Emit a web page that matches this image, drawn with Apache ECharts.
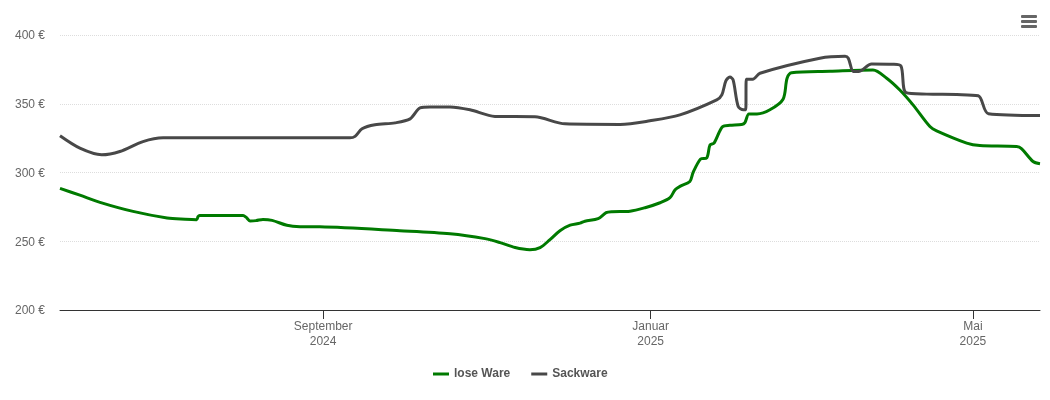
<!DOCTYPE html>
<html>
<head>
<meta charset="utf-8">
<script src="https://cdn.jsdelivr.net/npm/echarts@6/dist/echarts.min.js"></script>
<style>
html,body{margin:0;padding:0;background:#fff}
#chart{width:1050px;height:400px}
</style>
</head>
<body>
<div id="chart"></div>
<script>
var startDate = '2024-05-26'
var endDate = '2025-05-26'

// x values are days since startDate
var looseDays = [0,7.4,14.9,27.2,39.9,46.6,50.9,51.4,52,68.2,69.3,70.8,73,75.6,79,84.5,89.4,96.8,126.6,145.3,158.3,163.9,169.5,175,178.8,182.5,186.2,190,193.7,195.5,200.4,203.4,205.6,212.3,217.9,223.5,227.2,229.1,230.9,234.6,235.8,238.6,240.9,242.1,243.6,246.8,249.5,253.9,255.1,256.6,259.6,264.4,269.3,270.8,272.5,286.8,302.8,307.9,312.8,317.7,324,326.5,337.7,342.6,356.3,358.2,362.4,365]
var looseValues = [288.4,283.5,278.3,271.7,266.9,266,265.7,267.9,268.8,268.8,267.5,264.8,265,265.9,265.2,261.6,260.6,260.5,257.7,255.5,251.9,249,245.4,243.9,245.4,251.2,257.7,261.7,263.2,264.6,266.4,270.8,271.5,271.9,274.4,278,281.7,287.5,289.9,293.5,300,309.8,310.7,320.1,321.4,333.4,334.3,334.9,336.3,342.6,342.6,345.6,353.3,368.6,372.6,373.6,374.6,368.6,360,349.2,333.4,330.3,321.4,319.6,318.9,317.2,308,306.4]

var sackDays = [0,7.4,15.5,22.3,30.9,38.4,108,109.9,112.5,117.3,124.8,130.4,134.1,137.8,145.3,152.7,162,176.9,188.1,208.6,219.7,230.9,244.6,246.5,248,249.5,250.7,252.6,254.5,255.4,255.6,258,260.7,283,292.4,293.6,295.5,297.4,302.3,310.2,313.2,315.1,322.8,334,342,345.8,365]
var sackValues = [326.7,317.7,312.9,315.3,322.5,325.2,325.2,326.3,331.8,334.7,336.1,339,347,347.7,347.7,345.6,340.8,340.5,335.4,335,337.6,341.9,352.8,356.4,366.6,369.5,367.3,348,345.6,345.6,367.8,367.8,372.2,383.1,384.5,383.1,373.4,373.4,378.9,378.7,377.5,358.1,357,356.7,355.8,342.7,341.4]

var tickDates = ['2024-09-01','2025-01-01','2025-05-01']
var tickLabels = ['September\n2024','Januar\n2025','Mai\n2025']
var seriesNames = ['lose Ware','Sackware']

var startTime = new Date(startDate).getTime()
var endTime = new Date(endDate).getTime()
var tickTimes = tickDates.map(function (d) { return new Date(d).getTime() })

function toPoints(days, values) {
  return days.map(function (d, i) {
    return [startTime + d * 864e5, values[i]]
  })
}

var lineBase = {
  type: 'line',
  smooth: 0.3,
  showSymbol: false,
  lineStyle: { width: 3 }
}

var chart = echarts.init(document.getElementById('chart'), null, { renderer: 'canvas' })
chart.setOption({
  animation: false,
  textStyle: { fontFamily: '"Liberation Sans", Arial, sans-serif' },
  color: ['#007a00', '#484848'],
  grid: { left: 60, right: 10, top: 35, bottom: 90 },
  legend: {
    left: 428,
    top: 363,
    itemWidth: 16,
    itemHeight: 3,
    itemGap: 21,
    icon: 'rect',
    textStyle: { fontSize: 12, fontWeight: 'bold', color: '#555' },
    data: seriesNames
  },
  xAxis: {
    // plain value axis holding timestamps, the time axis breaks on customValues
    type: 'value',
    min: startTime,
    max: endTime,
    axisLine: { lineStyle: { color: '#333', width: 1 } },
    axisTick: { length: 9, lineStyle: { color: '#333' }, customValues: tickTimes },
    axisLabel: {
      customValues: tickTimes,
      color: '#666',
      fontSize: 12,
      lineHeight: 15,
      margin: 9,
      formatter: function (value) {
        return tickLabels[tickTimes.indexOf(value)]
      }
    },
    splitLine: { show: false }
  },
  yAxis: {
    type: 'value',
    min: 200,
    max: 400,
    interval: 50,
    axisLine: { show: false },
    axisTick: { show: false },
    axisLabel: { color: '#666', fontSize: 12, margin: 15, verticalAlign: 'top', padding: [-5, 0, 0, 0], formatter: '{value} €' },
    splitLine: { lineStyle: { color: '#ddd', type: 'dotted', width: 1 } }
  },
  graphic: [
    { type: 'rect', shape: { x: 1021, y: 15, width: 16, height: 3, r: 1 }, style: { fill: '#666' } },
    { type: 'rect', shape: { x: 1021, y: 20, width: 16, height: 3, r: 1 }, style: { fill: '#666' } },
    { type: 'rect', shape: { x: 1021, y: 25, width: 16, height: 3, r: 1 }, style: { fill: '#666' } }
  ],
  series: [
    Object.assign({}, lineBase, { name: seriesNames[0], data: toPoints(looseDays, looseValues) }),
    Object.assign({}, lineBase, { name: seriesNames[1], data: toPoints(sackDays, sackValues) })
  ]
})
</script>
</body>
</html>
